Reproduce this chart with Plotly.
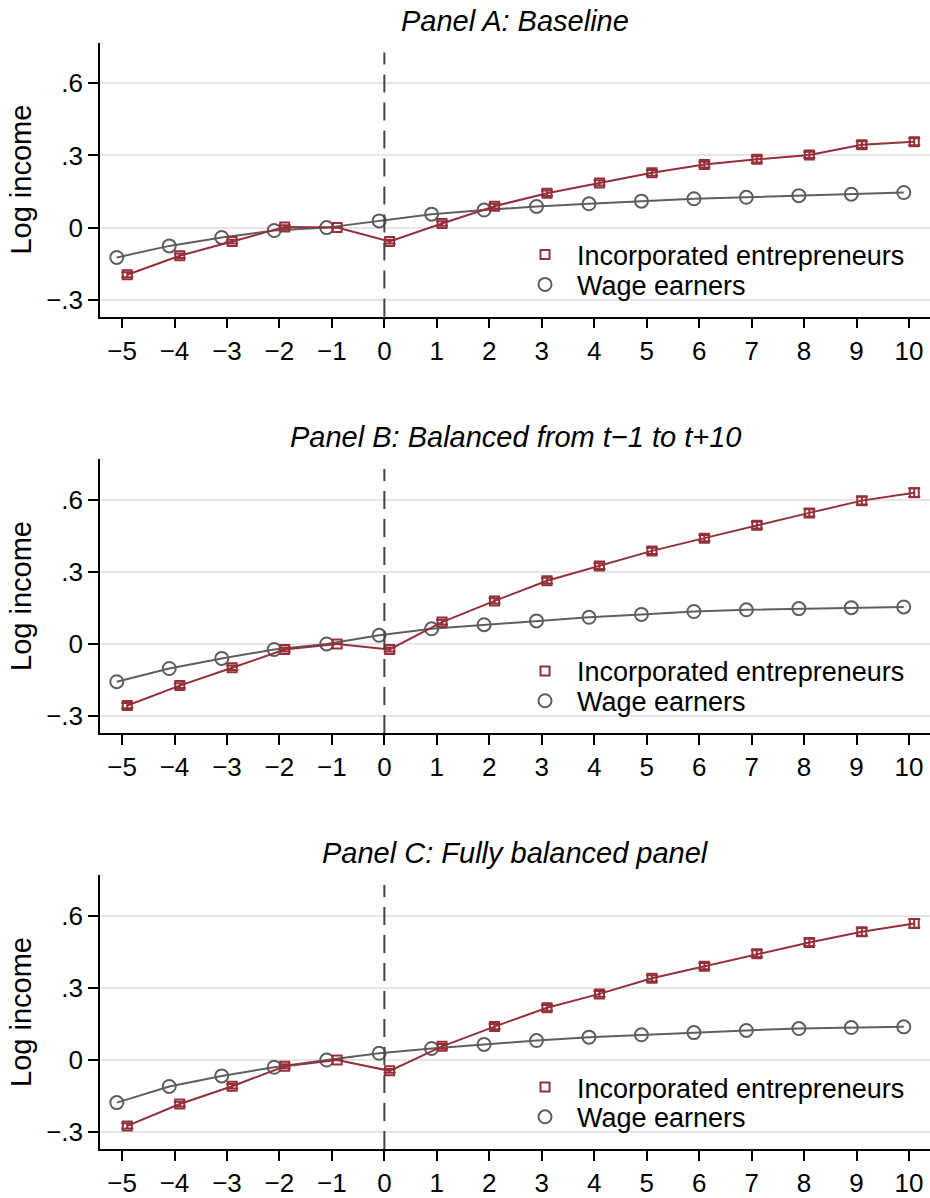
import plotly.graph_objects as go

years = list(range(-5, 11))

# Panel A: Baseline
ent_a = [-0.196, -0.117, -0.058, 0.003, 0.0, -0.058, 0.017, 0.089, 0.143, 0.186, 0.228, 0.262, 0.284, 0.302, 0.345, 0.357]
wage_a = [-0.124, -0.076, -0.041, -0.012, 0.0, 0.028, 0.056, 0.073, 0.088, 0.099, 0.110, 0.120, 0.126, 0.133, 0.139, 0.146]
err_a = [0.010, 0.009, 0.008, 0.007, 0.0, 0.008, 0.009, 0.010, 0.011, 0.011, 0.012, 0.012, 0.013, 0.013, 0.014, 0.015]

# Panel B: Balanced from t-1 to t+10
ent_b = [-0.256, -0.173, -0.099, -0.023, 0.0, -0.023, 0.091, 0.179, 0.263, 0.324, 0.387, 0.440, 0.494, 0.545, 0.596, 0.629]
wage_b = [-0.157, -0.102, -0.060, -0.023, 0.0, 0.036, 0.063, 0.080, 0.096, 0.111, 0.123, 0.135, 0.142, 0.147, 0.151, 0.154]
err_b = [0.011, 0.010, 0.009, 0.008, 0.0, 0.008, 0.010, 0.011, 0.012, 0.012, 0.013, 0.013, 0.014, 0.015, 0.016, 0.018]

# Panel C: Fully balanced panel
ent_c = [-0.274, -0.183, -0.109, -0.026, 0.0, -0.045, 0.057, 0.139, 0.217, 0.275, 0.340, 0.390, 0.442, 0.489, 0.533, 0.568]
wage_c = [-0.177, -0.110, -0.066, -0.030, 0.0, 0.028, 0.048, 0.065, 0.081, 0.095, 0.105, 0.114, 0.123, 0.131, 0.135, 0.138]
err_c = [0.011, 0.010, 0.009, 0.008, 0.0, 0.008, 0.010, 0.011, 0.012, 0.012, 0.013, 0.013, 0.014, 0.015, 0.016, 0.018]

titles = ["Panel A: Baseline", "Panel B: Balanced from t\u22121 to t+10", "Panel C: Fully balanced panel"]
series_names = ["Incorporated entrepreneurs", "Wage earners"]
ytick_vals = [-0.3, 0, 0.3, 0.6]
ytick_text = ["\u2212.3", "0", ".3", ".6"]
xtick_text = [("\u2212" + str(-t)) if t < 0 else str(t) for t in years]

panels = [(ent_a, wage_a, err_a), (ent_b, wage_b, err_b), (ent_c, wage_c, err_c)]

RED = "#93303A"
GRAY = "#5E5E5E"
FONT = "Liberation Sans, Arial, Helvetica, sans-serif"

W, H = 930, 1198


def px_x(p):
    return p / W


def px_y(p):
    return 1 - p / H


plot_left = 100
plot_tops = [43, 462.5, 881.7]
plot_h = 276

fig = go.Figure()
x_ent = [t + 0.1 for t in years]
x_wage = [t - 0.1 for t in years]

ent_marker = dict(symbol="square-open", size=9, color=RED, line=dict(width=2))
wage_marker = dict(symbol="circle-open", size=13, color=GRAY, line=dict(width=2))

leg_idx = 1
for i, (ent, wage, err) in enumerate(panels):
    k = "" if i == 0 else str(i + 1)
    xa, ya = "x" + k, "y" + k
    fig.add_trace(go.Scatter(
        x=x_wage, y=wage, xaxis=xa, yaxis=ya, mode="lines+markers",
        line=dict(color=GRAY, width=2), marker=wage_marker, showlegend=False))
    err_plot = [e if e > 0 else None for e in err]
    fig.add_trace(go.Scatter(
        x=x_ent, y=ent, xaxis=xa, yaxis=ya, mode="lines+markers",
        line=dict(color=RED, width=2), marker=ent_marker,
        error_y=dict(type="data", array=err_plot, color=RED, thickness=2, width=6),
        showlegend=False))

    top = plot_tops[i]
    # legend entries (marker only), one legend per row
    for j, (nm, mk) in enumerate([(series_names[0], ent_marker), (series_names[1], wage_marker)]):
        lname = "legend" if leg_idx == 1 else "legend" + str(leg_idx)
        fig.add_trace(go.Scatter(x=[None], y=[None], xaxis=xa, yaxis=ya, mode="markers",
                                 name=nm, marker=mk, legend=lname, showlegend=True))
        fig.layout[lname] = dict(x=px_x(513), y=px_y(top + 214 + 30 * j),
                                 xanchor="left", yanchor="middle",
                                 bgcolor="rgba(0,0,0,0)",
                                 font=dict(family=FONT, size=27, color="black"),
                                 itemwidth=54)
        leg_idx += 1

    dom = [px_y(top + plot_h), px_y(top)]
    axis_common = dict(showline=True, linecolor="black", linewidth=1.5,
                       ticks="outside", ticklen=10, tickwidth=1.5, tickcolor="black",
                       tickfont=dict(family=FONT, size=26, color="black"), zeroline=False)
    fig.layout["xaxis" + k] = dict(
        domain=[px_x(plot_left), 1], range=[-5.42, 10.40], anchor=ya,
        tickvals=years, ticktext=xtick_text, showgrid=False, **axis_common)
    fig.layout["yaxis" + k] = dict(
        domain=dom, range=[-0.370, 0.769], anchor=xa,
        tickvals=ytick_vals, ticktext=ytick_text, showgrid=True,
        gridcolor="#E6E6E6", gridwidth=2,
        title=dict(text="Log income", font=dict(family=FONT, size=29, color="black"), standoff=6),
        **axis_common)
    fig.add_shape(type="line", xref=xa, yref=ya + " domain", x0=0, x1=0, y0=0, y1=0.964,
                  line=dict(color="#444444", width=2, dash="18px,10px"))
    fig.add_annotation(text="<i>" + titles[i] + "</i>", xref="paper", yref="paper",
                       x=px_x((plot_left + 930) / 2), y=px_y(top - 22),
                       xanchor="center", yanchor="middle", showarrow=False,
                       font=dict(family=FONT, size=29, color="black"))

fig.update_layout(width=W, height=H, margin=dict(l=0, r=0, t=0, b=0),
                  paper_bgcolor="white", plot_bgcolor="white",
                  font=dict(family=FONT, color="black"))

# remove the default 8px page margin so the figure fills the window exactly
fig.write_html("out.html", config={"displayModeBar": False},
               post_script="document.body.style.margin='0';document.body.style.overflow='hidden';")
